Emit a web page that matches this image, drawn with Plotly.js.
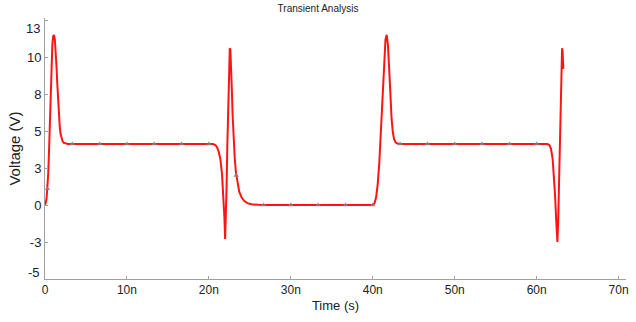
<!DOCTYPE html>
<html>
<head>
<meta charset="utf-8">
<script src="https://cdn.plot.ly/plotly-3.0.1.min.js"></script>
<style>html,body{margin:0;padding:0;background:#fff;}#chart{width:636px;height:322px;}</style>
</head>
<body>
<div id="chart"></div>
<script>
// Time in nanoseconds, voltage in volts
const timeNs = [0, 0.1, 0.2, 0.3, 0.4, 0.5, 0.6, 0.7, 0.8, 0.9, 1.0, 1.1, 1.2, 1.3, 1.4, 1.5, 1.6, 1.7, 1.8, 1.9, 2.0, 2.15, 2.3, 2.5, 2.8, 3.3, 4.0,
  20.5, 20.8, 21.0, 21.2, 21.4, 21.6, 21.75, 21.9, 21.98, 22.06, 22.15, 22.25, 22.35, 22.45, 22.55, 22.62, 22.7, 22.8, 22.9, 23.0, 23.15, 23.3, 23.5, 23.7, 24.0, 24.3, 24.7, 25.2, 26.0, 27.0,
  40.0, 40.2, 40.4, 40.6, 40.8, 41.0, 41.2, 41.4, 41.55, 41.7, 41.85, 42.0, 42.15, 42.3, 42.45, 42.6, 42.8, 43.1, 43.6,
  61.3, 61.55, 61.75, 61.95, 62.1, 62.25, 62.38, 62.47, 62.53, 62.62, 62.72, 62.82, 62.92, 63.02, 63.1, 63.16, 63.21, 63.25];
const voltage = [0, 0.15, 0.5, 1.1, 2.2, 3.8, 5.8, 7.9, 9.6, 10.9, 11.4, 11.5, 11.2, 10.5, 9.4, 8.2, 7.0, 6.0, 5.3, 4.8, 4.5, 4.3, 4.2, 4.16, 4.13, 4.12, 4.12,
  4.12, 4.05, 3.9, 3.6, 3.1, 2.1, 0.9, -0.9, -2.3, -1.2, 1.0, 4.0, 7.0, 9.5, 10.6, 10.5, 9.6, 7.8, 6.0, 4.6, 3.2, 2.2, 1.4, 0.9, 0.5, 0.28, 0.13, 0.05, 0.01, 0,
  0, 0.1, 0.5, 1.4, 2.9, 5.0, 7.6, 10.0, 11.2, 11.5, 10.8, 9.2, 7.3, 5.8, 4.9, 4.45, 4.22, 4.14, 4.12,
  4.12, 4.05, 3.8, 3.1, 2.0, 0.6, -1.0, -2.2, -2.5, -1.2, 1.5, 4.6, 7.5, 9.8, 10.6, 10.4, 9.6, 9.2];

// Simulation sample markers
const markerTimeNs = [0.3, 3.33, 6.67, 10, 13.33, 16.67, 20, 23.33, 26.67, 30, 33.33, 36.67, 40,
  43.33, 46.67, 50, 53.33, 56.67, 60];
const markerVoltage = [1.1, 4.12, 4.12, 4.12, 4.12, 4.12, 4.12, 2.0, 0, 0, 0, 0, 0,
  4.12, 4.12, 4.12, 4.12, 4.12, 4.12];

const xTickVals = [0, 10, 20, 30, 40, 50, 60, 70];
const xTickText = ['0', '10n', '20n', '30n', '40n', '50n', '60n', '70n'];
const yTickVals = [-5, -2.5, 0, 2.5, 5, 7.5, 10, 12.5];
const yTickText = ['', '-3', '0', '3', '5', '8', '10', ''];
// End-of-axis labels are drawn just inside the axis ends, as in the reference
const yEndLabelVals = [11.96, -4.53];
const yEndLabelText = ['13', '-5'];

const FONT = 'Liberation Sans, Arial, sans-serif';
const AXIS_GRAY = '#a0a0a0';

const traces = [
  {
    x: timeNs, y: voltage, type: 'scatter', mode: 'lines',
    line: {color: 'rgb(255,20,20)', width: 2, shape: 'linear'},
    hoverinfo: 'skip'
  },
  {
    x: markerTimeNs, y: markerVoltage, type: 'scatter', mode: 'markers',
    marker: {symbol: 'triangle-up', size: 5, color: 'rgba(130,130,130,0.85)'},
    hoverinfo: 'skip'
  }
];

const annotations = yEndLabelVals.map((v, i) => ({
  xref: 'paper', yref: 'y', x: 0, y: v,
  xanchor: 'right', yanchor: 'middle', xshift: -3,
  text: yEndLabelText[i], showarrow: false,
  font: {family: FONT, size: 13, color: '#222'}
}));

const layout = {
  width: 636, height: 322,
  margin: {l: 45, r: 10, t: 18, b: 43, pad: 0},
  paper_bgcolor: '#ffffff', plot_bgcolor: '#ffffff',
  showlegend: false,
  font: {family: FONT, size: 12, color: '#222'},
  title: {
    text: 'Transient Analysis',
    font: {family: FONT, size: 10, color: '#222'},
    xref: 'container', x: 0.5, xanchor: 'center',
    yref: 'container', y: 0.975, yanchor: 'middle'
  },
  annotations: annotations,
  xaxis: {
    range: [0, 70.9], autorange: false,
    tickvals: xTickVals, ticktext: xTickText,
    showgrid: false, zeroline: false,
    showline: true, linecolor: AXIS_GRAY, linewidth: 1,
    ticks: 'inside', ticklen: 3, tickcolor: AXIS_GRAY,
    tickfont: {family: FONT, size: 12, color: '#222'},
    title: {text: 'Time (s)', font: {family: FONT, size: 13, color: '#222'}, standoff: 4},
    automargin: false
  },
  yaxis: {
    range: [-5, 12.64], autorange: false,
    tickvals: yTickVals, ticktext: yTickText,
    showgrid: false, zeroline: false,
    showline: true, linecolor: AXIS_GRAY, linewidth: 1,
    ticks: 'inside', ticklen: 3, tickcolor: AXIS_GRAY,
    tickfont: {family: FONT, size: 13, color: '#222'},
    title: {text: 'Voltage (V)', font: {family: FONT, size: 15, color: '#222'}, standoff: 2},
    automargin: false
  }
};

Plotly.newPlot('chart', traces, layout, {staticPlot: true, displayModeBar: false});
</script>
</body>
</html>
